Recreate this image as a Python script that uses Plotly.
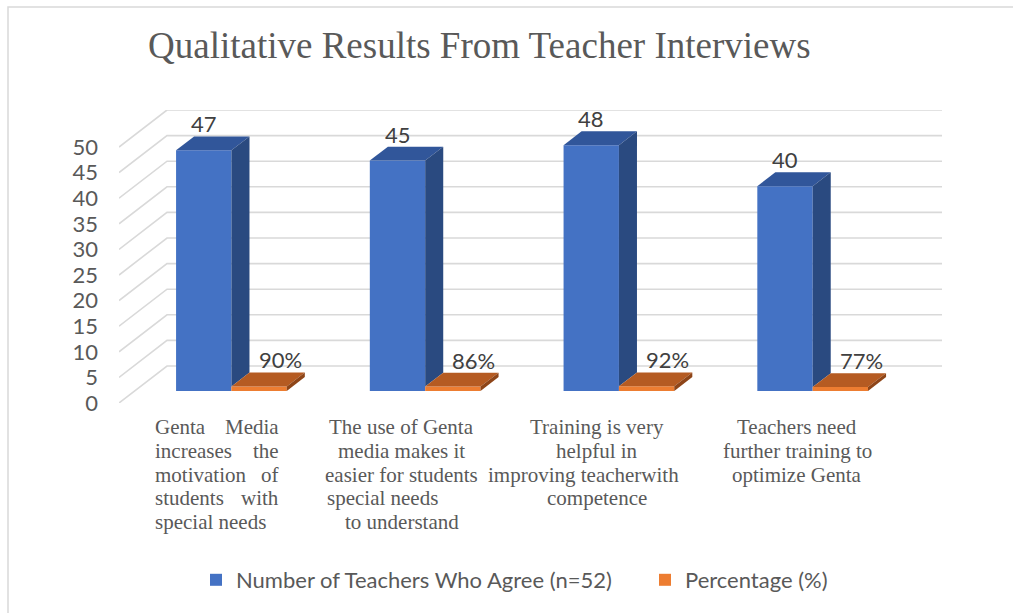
import plotly.graph_objects as go

# ---------------- data ----------------
categories = [
    "Genta Media increases the motivation of students with special needs",
    "The use of Genta media makes it easier for students special needs to understand",
    "Training is very helpful in improving teacherwith competence",
    "Teachers need further training to optimize Genta",
]
category_lines = [
    [["Genta", "Media"], ["increases", "the"], ["motivation", "of"], ["students", "with"], ["special needs"]],
    [["The use of Genta"], ["media makes it"], ["easier for students"], ["special needs"], ["to understand"]],
    [["Training is very"], ["helpful in"], ["improving teacherwith"], ["competence"]],
    [["Teachers need"], ["further training to"], ["optimize Genta"]],
]
teachers_agree = [47, 45, 48, 40]
percentage = [0.90, 0.86, 0.92, 0.77]
percentage_labels = ["90%", "86%", "92%", "77%"]
series_names = ["Number of Teachers Who Agree (n=52)", "Percentage (%)"]
y_ticks = [0, 5, 10, 15, 20, 25, 30, 35, 40, 45, 50]
title_text = "Qualitative Results From Teacher Interviews"

# ---------------- style / 3D projection ----------------
W, H = 1013, 613
PL, PR, PT, PB = 119, 942, 110, 403          # plot-area pixel box
X_MIN, X_FRONT_MAX = -0.5, 3.5
PX_PER_CAT = (894 - PL) / (X_FRONT_MAX - X_MIN)
DX = 48 / PX_PER_CAT                            # floor depth in category units
Y_MAX_FRONT = 50
PX_PER_VAL = (PB - 147) / Y_MAX_FRONT
DY = 37 / PX_PER_VAL                            # floor depth in value units
Z1, Z2 = 0.324, 0.70                            # bar front / back depth
BAR_W = 0.2857

BLUE, BLUE_TOP, BLUE_SIDE = "#4472C4", "#31569A", "#2A4A80"
ORANGE, ORANGE_TOP, ORANGE_SIDE = "#ED7D31", "#B55B22", "#8E4518"
GRID = "#D9D9D9"
TXT = "#595959"
SANS = "Lato"
SERIF = "Liberation Serif"


def proj(x, v, z):
    return x + z * DX, v + z * DY


def poly(points, color):
    xs = [p[0] for p in points] + [points[0][0]]
    ys = [p[1] for p in points] + [points[0][1]]
    return go.Scatter(x=xs, y=ys, mode="lines", fill="toself", fillcolor=color,
                      line=dict(width=0, color=color), hoverinfo="skip", showlegend=False)


fig = go.Figure()
shapes = []

# back wall gridlines + left wall slants (drawn beneath all traces)
for t in y_ticks:
    a = proj(X_MIN, t, 0)
    b = proj(X_MIN, t, 1)
    c = proj(X_FRONT_MAX, t, 1)
    shapes.append(dict(type="path", xref="x", yref="y", layer="below",
                       path=f"M{a[0]},{a[1]} L{b[0]},{b[1]} L{c[0]},{c[1]}",
                       line=dict(color=GRID, width=1.6)))

# front faces (bars)
fig.add_trace(go.Bar(x=[i + Z1 * DX for i in range(len(categories))], y=teachers_agree,
                     base=Z1 * DY, width=BAR_W, offset=-BAR_W, marker=dict(color=BLUE, line=dict(width=0)),
                     name=series_names[0], hoverinfo="skip", legend="legend"))
fig.add_trace(go.Bar(x=[i + Z1 * DX for i in range(len(categories))], y=percentage,
                     base=Z1 * DY, width=BAR_W, offset=0, marker=dict(color=ORANGE, line=dict(width=0)),
                     name=series_names[1], hoverinfo="skip", legend="legend2"))

# 3D top / side faces
for i, (v, p) in enumerate(zip(teachers_agree, percentage)):
    x0, x1, x2 = i - BAR_W, i, i + BAR_W
    fig.add_trace(poly([proj(x0, v, Z1), proj(x1, v, Z1), proj(x1, v, Z2), proj(x0, v, Z2)], BLUE_TOP))
    fig.add_trace(poly([proj(x1, p, Z1), proj(x1, v, Z1), proj(x1, v, Z2), proj(x1, p, Z2)], BLUE_SIDE))
    fig.add_trace(poly([proj(x1, p, Z1), proj(x2, p, Z1), proj(x2, p, Z2), proj(x1, p, Z2)], ORANGE_TOP))
    fig.add_trace(poly([proj(x2, 0, Z1), proj(x2, p, Z1), proj(x2, p, Z2), proj(x2, 0, Z2)], ORANGE_SIDE))

annotations = []
# data labels
for i, (v, p, pl) in enumerate(zip(teachers_agree, percentage, percentage_labels)):
    bx, _ = proj(i - BAR_W / 2, v, Z1)
    annotations.append(dict(x=bx, y=v + Z2 * DY, xref="x", yref="y", text=str(v), showarrow=False,
                            yanchor="bottom", xanchor="center", yshift=-3,
                            font=dict(family=SANS, size=22, color="#404040")))
    ox, _ = proj(i + BAR_W / 2, p, Z1)
    annotations.append(dict(x=ox, y=p + Z2 * DY, xref="x", yref="y", text=pl, showarrow=False,
                            yanchor="bottom", xanchor="center", xshift=21, yshift=-3,
                            font=dict(family=SANS, size=22, color="#404040")))

# category labels (line by line)
label_style = [
    dict(kind="justify", left=-63, right=65),
    dict(kind="center", off=[-8, -8, -8, None, -8], left=-85),
    dict(kind="center", off=[-6, -6, -20, -6]),
    dict(kind="center", off=[0, 0, 0]),
]
BASE0, LSTEP = 430, 23.8
for i, (lines, st) in enumerate(zip(category_lines, label_style)):
    for k, words in enumerate(lines):
        yb = BASE0 + k * LSTEP
        ypap = (PB - (yb - 3)) / (PB - PT)
        f = dict(family=SERIF, size=21, color=TXT)
        common = dict(x=i, xref="x", y=ypap, yref="paper", showarrow=False, yanchor="middle", font=f)
        if st["kind"] == "justify":
            annotations.append(dict(common, text=words[0], xanchor="left", xshift=st["left"]))
            if len(words) == 2:
                annotations.append(dict(common, text=words[1], xanchor="right", xshift=st["right"]))
        else:
            off = st["off"][k]
            if off is None:
                annotations.append(dict(common, text=words[0], xanchor="left", xshift=st["left"]))
            else:
                annotations.append(dict(common, text=words[0], xanchor="center", xshift=off))

# outer chart border (top & left visible)
shapes.append(dict(type="rect", xref="paper", yref="paper",
                   x0=(8 - PL) / (PR - PL), x1=(1030 - PL) / (PR - PL),
                   y0=(PB - 640) / (PB - PT), y1=(PB - 7) / (PB - PT),
                   line=dict(color=GRID, width=1.5), fillcolor="rgba(0,0,0,0)", layer="below"))

legend_common = dict(orientation="h", xanchor="left", yref="container", y=1 - 580 / H, yanchor="middle",
                     xref="container", font=dict(family=SANS, size=22, color=TXT), itemwidth=30,
                     bgcolor="rgba(0,0,0,0)")

fig.update_layout(
    width=W, height=H,
    margin=dict(l=PL, r=W - PR, t=PT, b=H - PB, pad=0, autoexpand=False),
    paper_bgcolor="white", plot_bgcolor="white",
    barmode="overlay",
    title=dict(text=title_text, font=dict(family=SERIF, size=37, color=TXT),
               x=148 / W, xanchor="left", xref="container",
               y=1 - 32 / H, yanchor="top", yref="container"),
    xaxis=dict(range=[X_MIN, X_FRONT_MAX + DX], showgrid=False, zeroline=False, showline=False,
               showticklabels=False, ticks="", fixedrange=True),
    yaxis=dict(range=[0, Y_MAX_FRONT + DY], showgrid=False, zeroline=False, showline=False,
               tickvals=y_ticks, ticktext=[str(t) for t in y_ticks], ticks="",
               ticklabelstandoff=20, tickfont=dict(family=SANS, size=22, color=TXT), fixedrange=True),
    legend=dict(legend_common, x=196 / W),
    legend2=dict(legend_common, x=645 / W),
    annotations=annotations,
    shapes=shapes,
    showlegend=True,
)

fig.write_html("out.html")
